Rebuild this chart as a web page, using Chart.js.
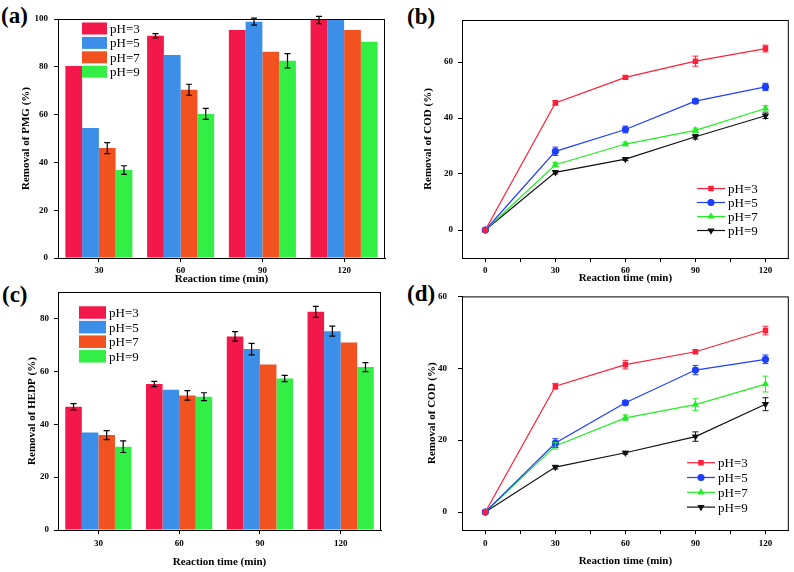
<!DOCTYPE html>
<html>
<head>
<meta charset="utf-8">
<script src="https://cdn.jsdelivr.net/npm/chart.js@4.4.1/dist/chart.umd.min.js"></script>
<style>
  body { margin: 0; background: #fff; width: 794px; height: 572px; position: relative; overflow: hidden; }
  canvas { position: absolute; }
  .tag { position: absolute; font: bold 23px "Liberation Serif", serif; line-height: 1; color: #000; }
</style>
</head>
<body>
<div class="tag" style="left:1px;top:4px">(a)</div>
<div class="tag" style="left:407px;top:5px">(b)</div>
<div class="tag" style="left:2px;top:283px">(c)</div>
<div class="tag" style="left:407px;top:282px">(d)</div>
<canvas id="chartA" width="397" height="292" style="left:0;top:0"></canvas>
<canvas id="chartB" width="394" height="292" style="left:400px;top:0"></canvas>
<canvas id="chartC" width="397" height="292" style="left:0;top:280px"></canvas>
<canvas id="chartD" width="394" height="292" style="left:400px;top:280px"></canvas>
<script>
// ---- data ----
const barTimes = ["30", "60", "90", "120"];
const lineTimes = [0, 30, 60, 90, 120];
const phNames = ["pH=3", "pH=5", "pH=7", "pH=9"];

// (a) PMG removal
const pmgPH3 = [80.3, 93, 95.4, 99.6];
const pmgPH5 = [54.4, 84.9, 98.9, 100];
const pmgPH7 = [46, 70.4, 86.3, 95.4];
const pmgPH9 = [36.8, 60.3, 82.5, 90.5];
const pmgErr3 = [0, 0.9, 0, 1.5];
const pmgErr5 = [0, 0, 1.5, 0];
const pmgErr7 = [2.3, 2.3, 0, 0];
const pmgErr9 = [1.8, 2.3, 3, 0];

// (b) COD removal, PMG
const codPmgPH3 = [0, 45.4, 54.5, 60.3, 64.8];
const codPmgPH5 = [0, 28.1, 35.9, 46, 51.1];
const codPmgPH7 = [0, 23.3, 30.7, 35.6, 43.4];
const codPmgPH9 = [0, 20.6, 25.3, 33.3, 40.8];
const codPmgErr3 = [0, 0.8, 0.6, 1.8, 1.2];
const codPmgErr5 = [0, 1.5, 1.2, 0.8, 1.3];
const codPmgErr7 = [0, 0.8, 0.6, 0.8, 1];
const codPmgErr9 = [0, 0.6, 0.5, 0.8, 1];

// (c) HEDP removal
const hedpPH3 = [46.6, 55.2, 73.2, 82.5];
const hedpPH5 = [36.9, 53, 68.4, 75.2];
const hedpPH7 = [35.9, 50.9, 62.6, 70.9];
const hedpPH9 = [31.5, 50.4, 57.3, 61.6];
const hedpErr3 = [1.2, 1, 1.8, 2.1];
const hedpErr5 = [0, 0, 2.2, 1.9];
const hedpErr7 = [1.7, 1.8, 0, 0];
const hedpErr9 = [2.2, 1.5, 1.2, 1.7];

// (d) COD removal, HEDP
const codHedpPH3 = [0, 35, 41, 44.6, 50.5];
const codHedpPH5 = [0, 19.2, 30.4, 39.5, 42.5];
const codHedpPH7 = [0, 18.4, 26.2, 29.9, 35.6];
const codHedpPH9 = [0, 12.5, 16.5, 21, 30];
const codHedpErr3 = [0, 0.8, 1.2, 0.5, 1.2];
const codHedpErr5 = [0, 1.2, 0.6, 1.3, 1.2];
const codHedpErr7 = [0, 0.9, 0.8, 1.6, 2.2];
const codHedpErr9 = [0, 0.5, 0.4, 1.3, 1.8];

const pmgTicks = [0, 20, 40, 60, 80, 100];
const hedpTicks = [0, 20, 40, 60, 80];
const codTicks = [0, 20, 40, 60];
const timeTicks = [0, 15, 30, 45, 60, 75, 90, 105, 120];

// ---- styles ----
const barColors = ["#f2194a", "#3c8fe8", "#f2521f", "#33ee44"];
const lineColors = ["#ff1f3a", "#1f3fff", "#22ee22", "#111111"];
const markers = [["rect", 0], ["circle", 0], ["triangle", 0], ["triangle", 180]];
const serif = '"Liberation Serif", "Times New Roman", serif';

Chart.defaults.font.family = serif;
Chart.defaults.color = "#000";
Chart.defaults.animation = false;

// box around plot area
const frame = {
  id: "frame",
  afterDatasetsDraw(chart) {
    const a = chart.chartArea, ctx = chart.ctx;
    ctx.save();
    ctx.strokeStyle = "#000";
    ctx.lineWidth = 1;
    ctx.strokeRect(a.left + 0.5, a.top + 0.5, a.right - a.left - 1, a.bottom - a.top);
    ctx.restore();
  }
};

const errorBars = {
  id: "errorBars",
  afterDatasetsDraw(chart, args, opts) {
    const ctx = chart.ctx, ys = chart.scales.y;
    ctx.save();
    ctx.lineWidth = opts.width || 1;
    chart.data.datasets.forEach((ds, i) => {
      const meta = chart.getDatasetMeta(i);
      ctx.strokeStyle = opts.color || ds.borderColor;
      ds.errors.forEach((e, j) => {
        if (!e) return;
        const raw = ds.data[j];
        const v = typeof raw === "object" ? raw.y : raw;
        const x = meta.data[j].x;
        const t = ys.getPixelForValue(v + e), b = ys.getPixelForValue(v - e);
        ctx.beginPath();
        ctx.moveTo(x, t); ctx.lineTo(x, b);
        ctx.moveTo(x - 3, t); ctx.lineTo(x + 3, t);
        ctx.moveTo(x - 3, b); ctx.lineTo(x + 3, b);
        ctx.stroke();
      });
    });
    ctx.restore();
  }
};

const panelLegend = {
  id: "panelLegend",
  afterDraw(chart, args, o) {
    const ctx = chart.ctx;
    ctx.save();
    ctx.font = "13px " + serif;
    ctx.textBaseline = "middle";
    chart.data.datasets.forEach((ds, i) => {
      const y = o.y + i * o.dy;
      if (o.kind === "box") {
        ctx.fillStyle = ds.backgroundColor;
        ctx.fillRect(o.x, y - o.h / 2, o.w, o.h);
      } else {
        ctx.strokeStyle = ds.borderColor;
        ctx.fillStyle = ds.borderColor;
        ctx.lineWidth = 1.2;
        ctx.beginPath(); ctx.moveTo(o.x, y); ctx.lineTo(o.x + o.w, y); ctx.stroke();
        Chart.helpers.drawPoint(ctx, { pointStyle: ds.pointStyle, rotation: ds.pointRotation, radius: 3, borderWidth: 1 }, o.x + o.w / 2, y);
      }
      ctx.fillStyle = "#000";
      ctx.fillText(ds.label, o.x + o.w + 3, y + 1);
    });
    ctx.restore();
  }
};

function fixedTicks(values) {
  return scale => { scale.ticks = values.map(v => ({ value: v })); };
}

function yAxis(title, min, max, vals, box) {
  return {
    min: min, max: max,
    afterBuildTicks: fixedTicks(vals),
    afterFit: s => { s.width = box.w; },
    grid: { drawOnChartArea: false, color: "#000", tickLength: 4 },
    border: { color: "#000", width: 1 },
    ticks: { font: { size: 9, weight: "bold" }, padding: box.tp, color: "#000" },
    title: { display: true, text: title, color: "#000", font: { size: 11, weight: "bold" }, padding: { top: box.tt, bottom: 0 } }
  };
}

function xAxis(box, extra) {
  return Object.assign({
    afterFit: s => { s.height = box.h; },
    grid: { drawOnChartArea: false, color: "#000", tickLength: 4, offset: false },
    border: { color: "#000", width: 1 },
    ticks: { font: { size: 9, weight: "bold" }, padding: box.tp, color: "#000", maxRotation: 0, autoSkip: false },
    title: { display: true, text: "Reaction time (min)", color: "#000", font: { size: 11, weight: "bold" }, padding: { top: 0, bottom: box.tb } }
  }, extra);
}

function barSets(series, errs) {
  return series.map((vals, i) => ({
    label: phNames[i],
    data: vals,
    errors: errs[i],
    backgroundColor: barColors[i],
    borderWidth: 0,
    categoryPercentage: 0.82,
    barPercentage: 1.0
  }));
}

function lineSets(series, errs) {
  return series.map((vals, i) => ({
    label: phNames[i],
    data: lineTimes.map((t, j) => ({ x: t, y: vals[j] })),
    errors: errs[i],
    borderColor: lineColors[i],
    backgroundColor: lineColors[i],
    pointBackgroundColor: lineColors[i],
    pointStyle: markers[i][0],
    pointRotation: markers[i][1],
    pointRadius: 3,
    borderWidth: 1.2,
    tension: 0
  }));
}

function barChart(id, series, errs, yTitle, yMax, yVals, lay, leg) {
  return new Chart(document.getElementById(id), {
    type: "bar",
    data: { labels: barTimes, datasets: barSets(series, errs) },
    options: {
      responsive: false,
      layout: { padding: lay.pad },
      scales: {
        x: xAxis(lay.x, {}),
        y: yAxis(yTitle, 0, yMax, yVals, lay.y)
      },
      plugins: {
        legend: { display: false },
        tooltip: { enabled: false },
        errorBars: { color: "#000", width: 1.2 },
        panelLegend: leg
      }
    },
    plugins: [frame, errorBars, panelLegend]
  });
}

function lineChart(id, series, errs, yMin, yMax, lay, leg) {
  return new Chart(document.getElementById(id), {
    type: "line",
    data: { datasets: lineSets(series, errs) },
    options: {
      responsive: false,
      layout: { padding: lay.pad },
      scales: {
        x: xAxis(lay.x, {
          type: "linear", min: -10, max: 130,
          afterBuildTicks: fixedTicks(timeTicks),
          ticks: { font: { size: 9, weight: "bold" }, padding: lay.x.tp, color: "#000", maxRotation: 0, autoSkip: false,
                   callback: v => (v % 30 === 0 ? v : "") }
        }),
        y: yAxis("Removal of COD (%)", yMin, yMax, codTicks, lay.y)
      },
      plugins: {
        legend: { display: false },
        tooltip: { enabled: false },
        errorBars: { width: 1 },
        panelLegend: leg
      }
    },
    plugins: [frame, errorBars, panelLegend]
  });
}

barChart("chartA",
  [pmgPH3, pmgPH5, pmgPH7, pmgPH9], [pmgErr3, pmgErr5, pmgErr7, pmgErr9],
  "Removal of PMG (%)", 100, pmgTicks,
  { pad: { left: 0, top: 19, right: 12, bottom: 0 }, x: { h: 34, tp: 3, tb: 6 }, y: { w: 58, tp: 6, tt: 20 } },
  { kind: "box", x: 82, y: 28.5, dy: 14.4, w: 25, h: 12 });

lineChart("chartB",
  [codPmgPH3, codPmgPH5, codPmgPH7, codPmgPH9], [codPmgErr3, codPmgErr5, codPmgErr7, codPmgErr9],
  -10, 75,
  { pad: { left: 0, top: 20, right: 4, bottom: 0 }, x: { h: 34, tp: 3, tb: 7 }, y: { w: 62, tp: 5, tt: 22 } },
  { kind: "line", x: 297, y: 188.5, dy: 14, w: 28 });

barChart("chartC",
  [hedpPH3, hedpPH5, hedpPH7, hedpPH9], [hedpErr3, hedpErr5, hedpErr7, hedpErr9],
  "Removal of HEDP (%)", 90, hedpTicks,
  { pad: { left: 0, top: 12, right: 16, bottom: 0 }, x: { h: 42, tp: 4, tb: 3 }, y: { w: 58, tp: 5, tt: 26 } },
  { kind: "box", x: 79, y: 32.5, dy: 14.6, w: 27, h: 12.5 });

lineChart("chartD",
  [codHedpPH3, codHedpPH5, codHedpPH7, codHedpPH9], [codHedpErr3, codHedpErr5, codHedpErr7, codHedpErr9],
  -5, 60,
  { pad: { left: 0, top: 12, right: 5, bottom: 0 }, x: { h: 42, tp: 4, tb: 4 }, y: { w: 62, tp: 11, tt: 26 } },
  { kind: "line", x: 287, y: 182.7, dy: 14.8, w: 28 });
</script>
</body>
</html>
